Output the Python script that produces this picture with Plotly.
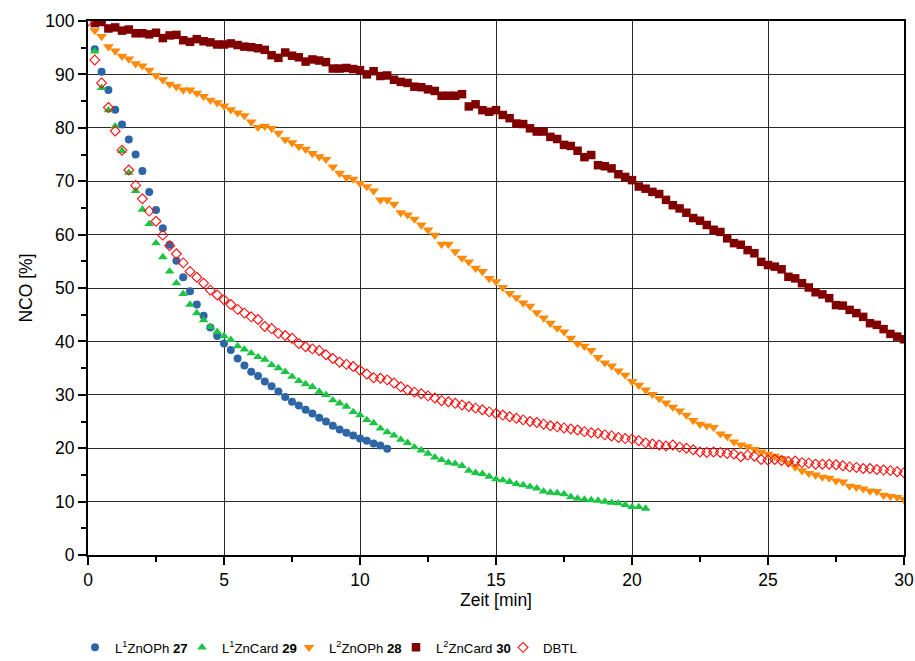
import plotly.graph_objects as go

# NCO conversion [%] sampled every 15 s (0.25 min)
SAMPLE_STEP = 0.25

nco_l1znoph_27 = [
    94.7, 90.5, 87.1, 83.4, 80.6, 77.8, 75.0, 71.9, 68.0, 64.6, 61.2, 58.1,
    55.1, 52.0, 49.4, 46.9, 44.8, 42.6, 41.0, 39.6, 38.4, 36.8, 35.5, 34.3,
    33.5, 32.5, 31.6, 30.6, 29.6, 28.7, 28.0, 27.2, 26.5, 25.7, 25.0, 24.2,
    23.5, 22.9, 22.4, 21.8, 21.4, 20.9, 20.5, 19.9,
]

nco_l1zncard_29 = [
    94.3, 87.5, 83.3, 80.3, 75.7, 71.6, 68.2, 64.7, 62.0, 58.4, 55.8, 53.1,
    50.9, 48.9, 46.9, 45.3, 44.0, 42.7, 41.8, 41.0, 40.3, 39.1, 38.5, 37.8,
    37.1, 36.6, 35.6, 35.0, 34.3, 33.4, 32.6, 32.0, 31.5, 30.6, 30.0, 29.0,
    28.4, 27.8, 26.8, 26.2, 25.3, 24.7, 23.7, 23.0, 22.4, 21.6, 21.0, 20.2,
    19.6, 19.0, 18.3, 17.8, 17.3, 17.1, 16.7, 15.8, 15.4, 15.2, 14.7, 14.2,
    14.0, 13.7, 13.3, 13.1, 12.8, 12.5, 11.9, 11.7, 11.6, 11.4, 10.9, 10.6,
    10.4, 10.3, 10.2, 10.0, 9.8, 9.7, 9.4, 9.0, 9.0, 8.7,
]

nco_l2znoph_28 = [
    98.2, 97.1, 95.2, 94.4, 93.4, 92.9, 92.0, 91.6, 90.8, 89.8, 89.0, 88.2,
    87.7, 87.1, 87.1, 86.5, 85.9, 85.2, 84.7, 84.1, 83.4, 82.8, 82.3, 81.1,
    80.1, 80.3, 79.9, 79.0, 77.8, 77.2, 76.5, 76.0, 75.2, 74.6, 74.1, 72.7,
    71.5, 70.7, 70.4, 69.6, 69.0, 68.2, 66.5, 66.5, 65.7, 64.1, 63.7, 62.9,
    61.8, 60.9, 59.9, 58.2, 58.2, 56.8, 55.6, 54.9, 53.7, 53.1, 51.8, 51.2,
    50.1, 49.0, 48.2, 47.2, 46.6, 45.4, 44.4, 43.4, 42.5, 41.8, 40.6, 39.6,
    39.1, 38.3, 37.0, 36.0, 35.4, 34.5, 33.7, 32.5, 31.8, 30.9, 30.1, 29.3,
    28.5, 27.7, 27.0, 26.2, 25.2, 24.5, 24.2, 23.9, 22.7, 22.2, 21.2, 20.6,
    20.3, 19.8, 19.3, 18.9, 18.5, 18.1, 17.2, 16.5, 15.8, 15.3, 15.0, 14.6,
    14.4, 13.9, 13.7, 12.9, 12.7, 12.4, 12.0, 11.9, 11.2, 11.0, 10.8, 10.4,
]

nco_l2zncard_30 = [
    99.6, 99.8, 98.6, 98.8, 98.2, 98.4, 97.7, 97.7, 97.5, 97.8, 96.8, 97.3,
    97.4, 96.4, 96.1, 96.6, 96.2, 96.0, 95.6, 95.6, 95.8, 95.5, 95.2, 95.1,
    94.9, 94.6, 93.6, 93.1, 94.1, 93.5, 93.2, 92.4, 92.8, 92.6, 92.3, 91.1,
    91.1, 91.2, 91.0, 90.8, 90.0, 90.6, 89.7, 89.8, 89.0, 88.6, 88.4, 87.7,
    87.6, 87.2, 86.9, 86.0, 86.0, 86.0, 86.3, 84.0, 84.4, 83.3, 83.0, 83.3,
    82.4, 81.8, 80.8, 80.7, 79.9, 79.3, 79.3, 78.3, 77.9, 76.8, 76.6, 75.7,
    74.5, 74.9, 73.0, 72.8, 72.4, 71.3, 70.8, 70.2, 69.0, 68.6, 68.0, 67.6,
    66.5, 65.5, 64.9, 64.1, 63.1, 62.6, 61.8, 60.9, 60.5, 59.3, 58.4, 58.1,
    57.1, 56.5, 54.9, 54.3, 54.0, 53.5, 52.1, 51.8, 50.9, 50.1, 49.2, 48.8,
    48.1, 46.8, 46.7, 45.9, 45.3, 44.6, 43.4, 43.1, 42.3, 41.4, 40.9, 40.4,
]

# DBTL reference run starts at t = 0
nco_dbtl = [
    100.0, 92.7, 88.4, 83.8, 79.4, 75.8, 72.1, 69.2, 66.7, 64.4, 62.5, 59.9,
    57.9, 56.4, 54.7, 53.1, 52.0, 50.9, 49.6, 48.7, 47.8, 46.9, 46.0, 45.3,
    44.6, 44.1, 42.8, 42.4, 41.5, 41.1, 40.6, 39.6, 39.0, 38.6, 38.3, 37.5,
    36.8, 36.1, 35.7, 35.3, 34.6, 33.9, 33.2, 33.1, 32.8, 32.2, 31.5, 30.9,
    30.5, 30.2, 29.8, 29.4, 28.9, 28.7, 28.4, 28.1, 27.8, 27.5, 27.2, 26.8,
    26.5, 26.2, 25.9, 25.6, 25.3, 25.0, 24.8, 24.5, 24.2, 24.0, 23.8, 23.6,
    23.4, 23.1, 22.9, 22.8, 22.5, 22.3, 22.0, 21.8, 21.7, 21.4, 21.0, 20.8,
    20.6, 20.4, 20.6, 20.2, 20.0, 19.7, 19.3, 19.2, 19.3, 19.2, 19.0, 18.9,
    18.4, 18.7, 18.5, 17.9, 17.8, 17.9, 17.7, 17.5, 17.6, 17.3, 17.2, 17.0,
    17.0, 17.0, 16.9, 16.7, 16.5, 16.4, 16.2, 16.2, 16.0, 15.9, 15.8, 15.6,
    15.4,
]


def times(values, start):
    return [start + SAMPLE_STEP * i for i in range(len(values))]


series = [
    ("L<sup>1</sup>ZnOPh <b>27</b>", nco_l1znoph_27, SAMPLE_STEP,
     dict(symbol="circle", size=8, color="#2e65a6")),
    ("L<sup>1</sup>ZnCard <b>29</b>", nco_l1zncard_29, SAMPLE_STEP,
     dict(symbol="triangle-up", size=8.5, color="#1cc443")),
    ("L<sup>2</sup>ZnOPh <b>28</b>", nco_l2znoph_28, SAMPLE_STEP,
     dict(symbol="triangle-down", size=9.5, color="#ff8a0a")),
    ("L<sup>2</sup>ZnCard <b>30</b>", nco_l2zncard_30, SAMPLE_STEP,
     dict(symbol="square", size=8.5, color="#800000")),
    ("DBTL", nco_dbtl, 0.0,
     dict(symbol="diamond-open", size=7.6, color="#ff1010",
          line=dict(width=1.1, color="#ff1010"))),
]

fig = go.Figure()
for name, vals, t0, marker in series:
    fig.add_trace(go.Scatter(
        x=times(vals, t0), y=vals, mode="markers", name=name,
        marker=marker, cliponaxis=True,
    ))

LABEL_SIZE = 17.5

axis_common = dict(
    showline=True, linecolor="black", linewidth=2, mirror=True,
    ticks="outside", ticklen=8, tickwidth=2, tickcolor="black",
    showgrid=True, gridcolor="#2a2a2a", gridwidth=1.2,
    zeroline=False, automargin=False,
    tickfont=dict(size=LABEL_SIZE, color="black"),
)

fig.update_xaxes(
    range=[0, 30], tick0=0, dtick=5,
    minor=dict(dtick=2.5, ticks="outside", ticklen=5, tickwidth=2,
               tickcolor="black", showgrid=False),
    title=dict(text="Zeit [min]", font=dict(size=LABEL_SIZE), standoff=4),
    **axis_common,
)
fig.update_yaxes(
    range=[0, 100], tick0=0, dtick=10,
    minor=dict(dtick=5, ticks="outside", ticklen=5, tickwidth=2,
               tickcolor="black", showgrid=False),
    title=dict(text="NCO [%]", font=dict(size=LABEL_SIZE), standoff=8),
    **axis_common,
)

fig.update_layout(
    width=915, height=661,
    margin=dict(l=88, r=11, t=21, b=106),
    paper_bgcolor="white", plot_bgcolor="white",
    font=dict(family="Liberation Sans, Arial, sans-serif", size=LABEL_SIZE,
              color="black"),
    showlegend=True,
    legend=dict(
        orientation="h", xanchor="left", yanchor="middle",
        xref="container", x=75 / 915, yref="container", y=0.02,
        entrywidth=62, entrywidthmode="pixels",
        font=dict(size=13.2), bgcolor="rgba(0,0,0,0)",
    ),
)

fig.write_html("out.html")
